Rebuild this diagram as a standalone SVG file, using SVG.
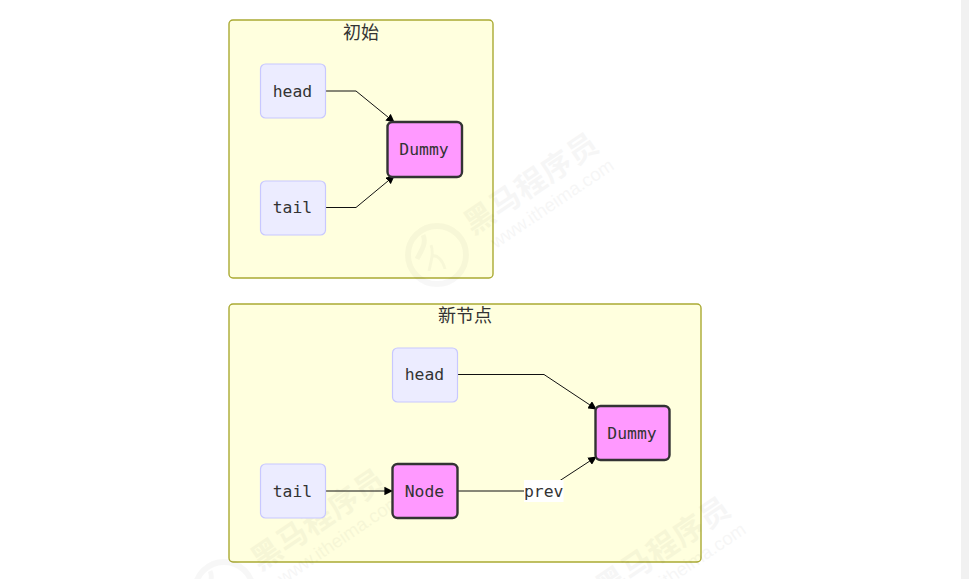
<svg xmlns="http://www.w3.org/2000/svg" width="969" height="579" viewBox="0 0 969 579">
<defs>
<style>
.cluster{fill:#ffffde;stroke:#aaaa33;stroke-width:1.400}
.n{fill:#ececff;stroke:#c8c8ff;stroke-width:1.200}
.h{fill:#ff99ff;stroke:#333333;stroke-width:2.400}
.t{font-family:"DejaVu Sans Mono","Liberation Mono",monospace;font-size:16.400px;fill:#333333;text-anchor:middle}
.c{font-family:"Noto Sans CJK SC",sans-serif;font-size:18px;fill:#333333;text-anchor:middle}
.e{fill:none;stroke:#111111;stroke-width:1}
.w1{font-family:"Noto Sans CJK SC",sans-serif;font-size:30px;font-weight:700;fill:#000;opacity:.03;text-anchor:middle;letter-spacing:1px}
.w2{font-family:"Liberation Sans",sans-serif;font-size:18.500px;fill:#000;opacity:.03;text-anchor:middle}
.logo{fill:none;stroke:#000;stroke-opacity:.03}
</style>
<marker id="a" viewBox="0 0 10 10" refX="9" refY="5" markerWidth="8.500" markerHeight="8.500" markerUnits="userSpaceOnUse" orient="auto"><path d="M0 0L10 5L0 10z" fill="#000"/></marker>
<g id="wm">
<g transform="rotate(-34)"><text class="w1" x="0" y="11">黑马程序员</text><text class="w2" x="6" y="35">www.itheima.com</text></g>
<g transform="translate(-94 72)"><circle class="logo" r="29" stroke-width="6"/><path class="logo" stroke-width="3" d="M-8 16C-6 6-3-2-6-10M-6 2C0-2 6 6 8 14"/><path class="logo" stroke-width="5" d="M-14-20C-10-12-16-4-20 4"/></g>
</g>
</defs>
<rect width="969" height="579" fill="#fff"/>
<rect x="961" y="0" width="8" height="579" fill="#f1f1f1"/>
<g id="cluster-init"><rect class="cluster" x="229" y="20" width="264" height="258" rx="4"/><text class="c" x="361" y="39">初始</text></g>
<g id="cluster-new"><rect class="cluster" x="229" y="304" width="472" height="258" rx="4"/><text class="c" x="465" y="322">新节点</text></g>
<g id="watermarks">
<use href="#wm" x="531" y="183"/>
<use href="#wm" x="318" y="519"/>
<use href="#wm" x="663" y="547"/>
</g>
<g id="connectors">
<path class="e" marker-end="url(#a)" d="M326 91H356L394 122"/>
<path class="e" marker-end="url(#a)" d="M326 207.500H356L394 176"/>
<path class="e" marker-end="url(#a)" d="M458 374.500H544L596 409"/>
<path class="e" marker-end="url(#a)" d="M326 491H392"/>
<path class="e" marker-end="url(#a)" d="M458 491H544L596 457"/>
</g>
<g id="edge-label-prev"><rect x="524" y="480" width="39.500" height="22" fill="#fff"/><text class="t" x="543.700" y="497">prev</text></g>
<g id="init-head"><rect class="n" x="260.500" y="64" width="65" height="54" rx="5"/><text class="t" x="292.500" y="97">head</text></g>
<g id="init-tail"><rect class="n" x="260.500" y="181" width="65" height="54" rx="5"/><text class="t" x="292.500" y="213">tail</text></g>
<g id="init-dummy"><rect class="h" x="387.500" y="122" width="74.500" height="55" rx="5"/><text class="t" x="424" y="155">Dummy</text></g>
<g id="new-head"><rect class="n" x="392.500" y="348" width="65" height="54" rx="5"/><text class="t" x="424.500" y="380">head</text></g>
<g id="new-tail"><rect class="n" x="260.500" y="464" width="65" height="54" rx="5"/><text class="t" x="292.500" y="497">tail</text></g>
<g id="new-node"><rect class="h" x="392.500" y="464" width="65" height="54" rx="5"/><text class="t" x="424.500" y="497">Node</text></g>
<g id="new-dummy"><rect class="h" x="595.500" y="406" width="74" height="54" rx="5"/><text class="t" x="632" y="439">Dummy</text></g>
</svg>
